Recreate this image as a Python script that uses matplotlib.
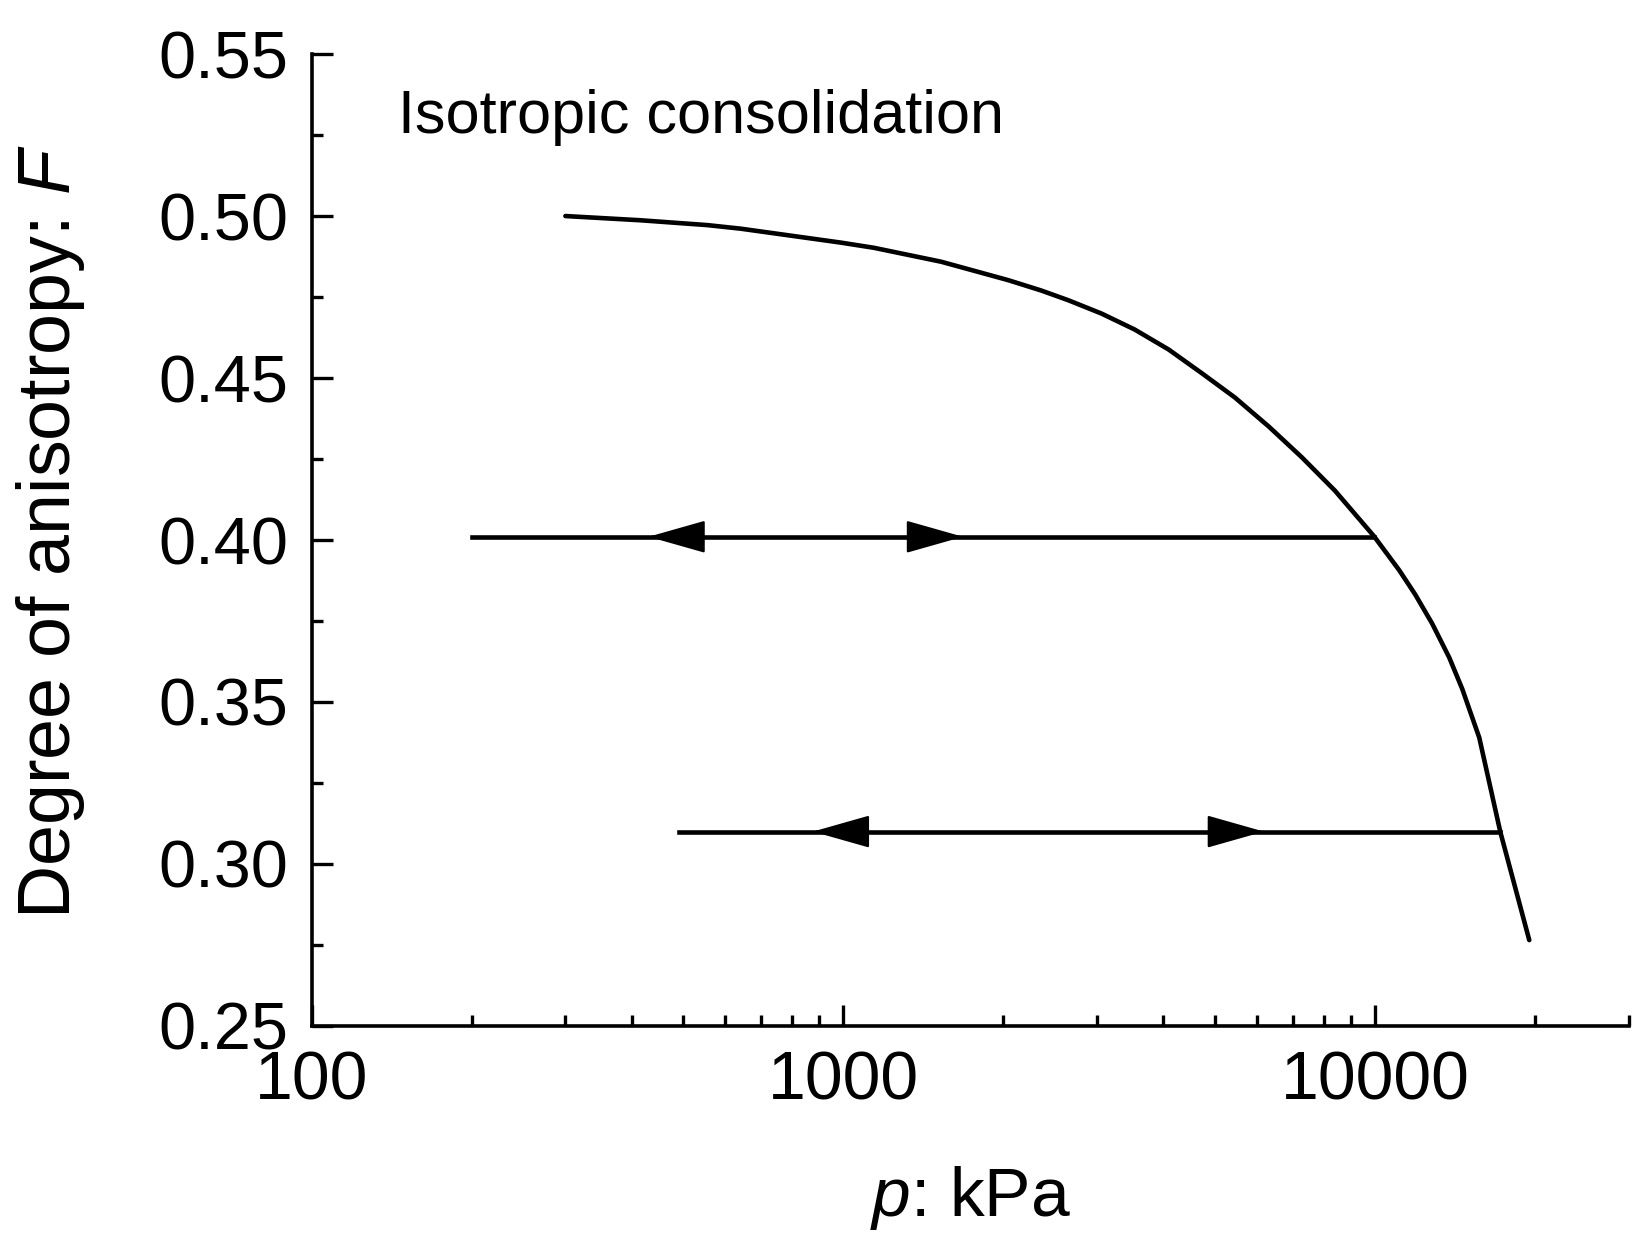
import matplotlib
matplotlib.use("Agg")
import matplotlib.pyplot as plt
from matplotlib.ticker import FixedLocator, NullFormatter, FuncFormatter

plt.rcParams['font.family'] = ['Liberation Sans', 'DejaVu Sans']
plt.rcParams['mathtext.fontset'] = 'custom'
plt.rcParams['mathtext.rm'] = 'Liberation Sans'
plt.rcParams['mathtext.it'] = 'Liberation Sans:italic'

# Main isotropic consolidation curve (p in kPa, F)
curve_p = [300, 415, 555, 641, 989, 1141, 1527, 2043, 2357, 2650, 3058, 3528,
           4090, 4721, 5448, 6313, 7285, 8408, 9950, 11100, 11898, 12806,
           13790, 14590, 15703, 17202, 19500]
curve_F = [0.500, 0.4987, 0.4972, 0.4961, 0.4918, 0.4902, 0.4859, 0.4802, 0.4770,
           0.4740, 0.4699, 0.4650, 0.4588, 0.4515, 0.4440, 0.4350, 0.4255,
           0.4152, 0.4012, 0.3907, 0.3832, 0.3742, 0.3637, 0.3540, 0.3390,
           0.3099, 0.2765]

# Unloading/reloading lines
upper_p = [200, 9950]
upper_F = [0.401, 0.401]
lower_p = [490, 17200]
lower_F = [0.310, 0.310]

# Arrow heads: (base p, tip p, F)
arrow_base = [539, 1340, 1093, 4930]
arrow_tip = [430, 1679, 876, 6180]
arrow_F = [0.401, 0.401, 0.310, 0.310]

yticks = [0.25, 0.30, 0.35, 0.40, 0.45, 0.50, 0.55]
xticks = [100, 1000, 10000]

fig = plt.figure(figsize=(16.32, 12.37), dpi=100)
ax = fig.add_axes([0.191, 0.1706, 0.807, 0.7857])

lw = 3.3
ax.plot(curve_p, curve_F, color='black', lw=lw, solid_capstyle='round', solid_joinstyle='round')
ax.plot(upper_p, upper_F, color='black', lw=lw)
ax.plot(lower_p, lower_F, color='black', lw=lw)

for b, t, f in zip(arrow_base, arrow_tip, arrow_F):
    ax.annotate('', xy=(t, f), xytext=(b, f),
                arrowprops=dict(arrowstyle='-|>,head_length=37,head_width=10.5',
                                mutation_scale=1, color='black', lw=1.5,
                                shrinkA=0, shrinkB=0, joinstyle='round'))

ax.set_xscale('log')
ax.set_xlim(100, 30000)
ax.set_ylim(0.25, 0.55)

ax.xaxis.set_major_locator(FixedLocator(xticks))
ax.xaxis.set_major_formatter(FuncFormatter(lambda v, pos: f"{int(round(v))}"))
minors = [m * d for d in (100, 1000, 10000) for m in range(2, 10) if m * d <= 30000]
ax.xaxis.set_minor_locator(FixedLocator(minors))
ax.xaxis.set_minor_formatter(NullFormatter())

ax.yaxis.set_major_locator(FixedLocator(yticks))
ax.yaxis.set_major_formatter(FuncFormatter(lambda v, pos: f"{v:.2f}"))
ax.yaxis.set_minor_locator(FixedLocator([0.275, 0.325, 0.375, 0.425, 0.475, 0.525]))

for s in ('top', 'right'):
    ax.spines[s].set_visible(False)
for s in ('left', 'bottom'):
    ax.spines[s].set_linewidth(2.6)

ax.tick_params(which='major', direction='in', length=15, width=2.4)
ax.tick_params(which='minor', direction='in', length=8, width=2.4)
ax.tick_params(axis='y', which='major', pad=17, labelsize=48)
ax.tick_params(axis='x', which='major', pad=17, labelsize=49)

ax.set_xlabel('$p$: kPa', fontsize=50)
ax.xaxis.label.set_va('center')
ax.xaxis.set_label_coords(0.5, -0.177)
ax.set_ylabel('Degree of anisotropy: $F$', fontsize=53)
ax.yaxis.label.set_va('center')
ax.yaxis.set_label_coords(-0.198, 0.509)

ax.text(0.0653, 0.9187, 'Isotropic consolidation', transform=ax.transAxes,
        fontsize=44, ha='left', va='baseline')

fig.savefig('out.png', dpi=100)
